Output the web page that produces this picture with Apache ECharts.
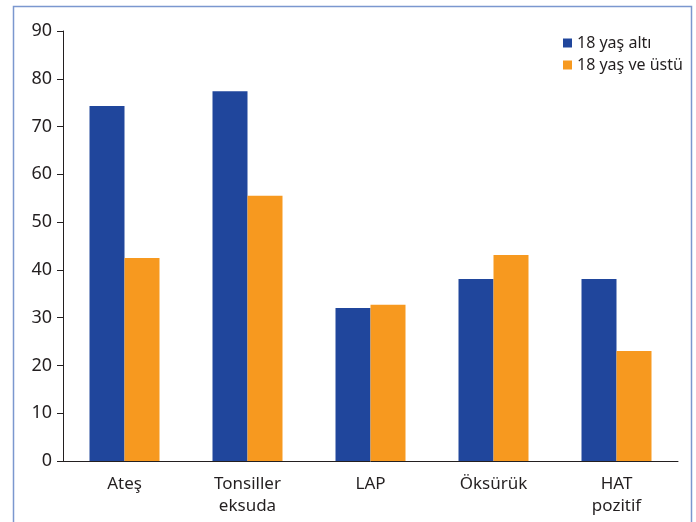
<!DOCTYPE html>
<html>
<head>
<meta charset="utf-8">
<script src="https://cdn.jsdelivr.net/npm/echarts@6/dist/echarts.min.js"></script>
<style>
  html, body { margin: 0; padding: 0; background: #fff; }
  #chart { width: 696px; height: 522px; }
</style>
</head>
<body>
<div id="chart"></div>
<script>
// Categories and percentages per age group
const categories = ['Ateş', 'Tonsiller\neksuda', 'LAP', 'Öksürük', 'HAT\npozitif'];
const seriesNames = ['18 yaş altı', '18 yaş ve üstü'];
const under18 = [74.3, 77.4, 32.0, 38.1, 38.1];
const over18 = [42.5, 55.5, 32.7, 43.1, 23.0];
const yTicks = [0, 10, 20, 30, 40, 50, 60, 70, 80, 90];

const FONT = '"Noto Sans", sans-serif';
const BLUE = '#20469c';
const ORANGE = '#f7991f';

const chart = echarts.init(document.getElementById('chart'));
chart.setOption({
  animation: false,
  backgroundColor: '#fff',
  graphic: [{
    type: 'rect',
    shape: { x: 13.5, y: 6.5, width: 678, height: 540 },
    style: { fill: 'none', stroke: '#7b97cf', lineWidth: 1.5 },
    silent: true
  }],
  grid: { left: 63, right: 18, top: 31, bottom: 61 },
  legend: {
    orient: 'vertical',
    left: 558,
    top: 30,
    icon: 'rect',
    itemWidth: 9,
    itemHeight: 9,
    itemGap: 6,
    data: seriesNames,
    textStyle: { fontFamily: FONT, fontSize: 16, color: '#231f20' }
  },
  xAxis: {
    type: 'category',
    data: categories,
    axisLine: { lineStyle: { color: '#231f20', width: 1 } },
    axisTick: { alignWithLabel: true, length: 5, lineStyle: { color: '#231f20' } },
    axisLabel: {
      fontFamily: FONT, fontSize: 17, color: '#231f20',
      margin: 12, lineHeight: 22
    }
  },
  yAxis: {
    type: 'value',
    min: yTicks[0],
    max: yTicks[yTicks.length - 1],
    interval: 10,
    splitLine: { show: false },
    axisLine: { show: true, lineStyle: { color: '#231f20', width: 1 } },
    axisTick: { show: true, length: 6, lineStyle: { color: '#231f20' } },
    axisLabel: { fontFamily: FONT, fontSize: 18, color: '#231f20', margin: 11 }
  },
  series: [
    { name: seriesNames[0], type: 'bar', data: under18, barWidth: 35, barGap: 0, itemStyle: { color: BLUE } },
    { name: seriesNames[1], type: 'bar', data: over18, barWidth: 35, barGap: 0, itemStyle: { color: ORANGE } }
  ]
});
</script>
</body>
</html>
